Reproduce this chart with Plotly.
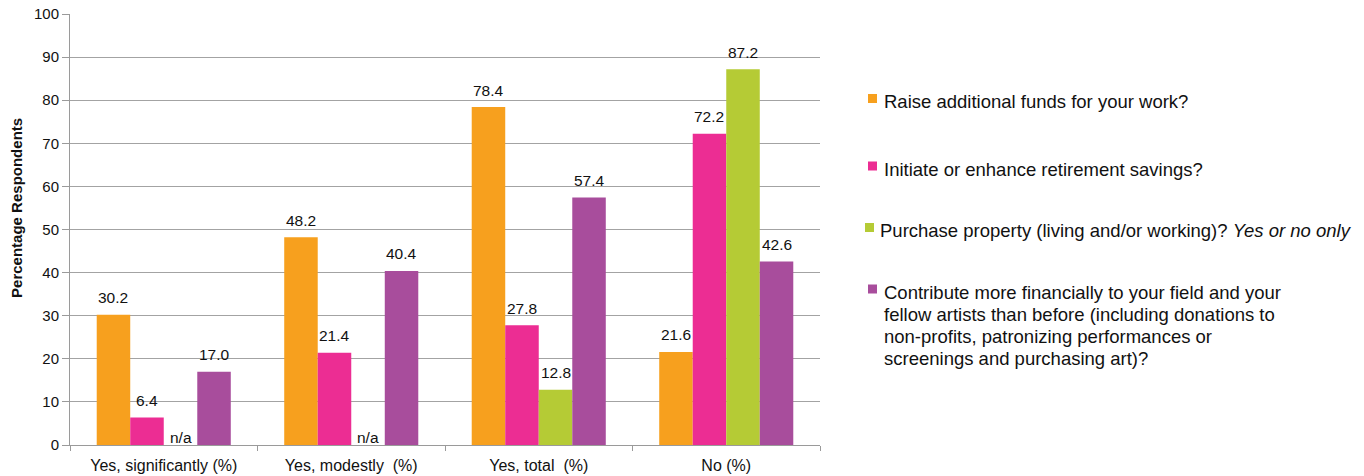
import plotly.graph_objects as go

# Survey responses (percentage of respondents)
categories = ["Yes, significantly (%)", "Yes, modestly  (%)", "Yes, total  (%)", "No (%)"]
series_names = [
    "Raise additional funds for your work?",
    "Initiate or enhance retirement savings?",
    "Purchase property (living and/or working)? <i>Yes or no only</i>",
    "Contribute more financially to your field and your<br>fellow artists than before (including donations to<br>non-profits, patronizing performances or<br>screenings and purchasing art)?",
]
raise_funds = [30.2, 48.2, 78.4, 21.6]
retirement = [6.4, 21.4, 27.8, 72.2]
property_purchase = [None, None, 12.8, 87.2]   # only asked as yes / no
contribute = [17.0, 40.4, 57.4, 42.6]
series_values = [raise_funds, retirement, property_purchase, contribute]
colors = ["#F7A01E", "#EC2D93", "#B5CB35", "#A84D9C"]

FONT = "Liberation Sans, Arial, sans-serif"
BARGAP = 0.285
n_series = len(series_values)
bar_w = (1 - BARGAP) / n_series

fig = go.Figure()
for name, vals, col in zip(series_names, series_values, colors):
    fig.add_trace(go.Bar(
        x=categories, y=[v if v is not None else 0 for v in vals],
        name=name, marker=dict(color=col, line=dict(width=0)),
        showlegend=False, hoverinfo="skip",
    ))

# value labels above each bar, "n/a" where a series was not asked
annotations = []
for i, vals in enumerate(series_values):
    for j, v in enumerate(vals):
        xpos = j + (i - (n_series - 1) / 2) * bar_w
        if v is None:
            annotations.append(dict(x=xpos, y=0, xref="x", yref="y", text="n/a",
                                    showarrow=False, yanchor="middle", yshift=8,
                                    font=dict(family=FONT, size=15.5, color="#111")))
        else:
            annotations.append(dict(x=xpos, y=v, xref="x", yref="y", text=f"{v:.1f}",
                                    showarrow=False, yanchor="middle", yshift=17,
                                    font=dict(family=FONT, size=15.5, color="#111")))

# y-axis title
annotations.append(dict(x=-0.0707, y=0.55, xref="paper", yref="paper",
                        xanchor="center", yanchor="middle",
                        text="<b>Percentage Respondents</b>", textangle=-90,
                        showarrow=False, font=dict(family=FONT, size=15, color="#111")))

# legend drawn at the right side
PL, PT, PW, PH = 70, 14, 750, 431


def px(xp):
    return (xp - PL) / PW


def py(yp):
    return (PT + PH - yp) / PH


legend_rows = [
    (868, 98.5, 882, [series_names[0]]),
    (868, 166, 882, [series_names[1]]),
    (865, 227.5, 878, [series_names[2]]),
    (868, 289, 882, series_names[3].split("<br>")),
]
shapes = []
for (sx, sy, tx, lines), col in zip(legend_rows, colors):
    shapes.append(dict(type="rect", xref="paper", yref="paper",
                       x0=px(sx), x1=px(sx + 9), y0=py(sy - 4.5), y1=py(sy + 4.5),
                       fillcolor=col, line=dict(width=0)))
    for k, line in enumerate(lines):
        annotations.append(dict(x=px(tx), y=py(sy + 3 + 22 * k), xref="paper", yref="paper",
                                text=line, showarrow=False, xanchor="left", yanchor="middle",
                                font=dict(family=FONT, size=18.5, color="#111")))

fig.update_layout(
    width=1364, height=476,
    margin=dict(l=PL, r=1364 - PL - PW, t=PT, b=476 - PT - PH, pad=0),
    barmode="group", bargap=BARGAP, bargroupgap=0,
    paper_bgcolor="white", plot_bgcolor="white",
    font=dict(family=FONT, color="#111"),
    annotations=annotations, shapes=shapes,
    xaxis=dict(showgrid=False, showline=True, linecolor="#9a9a9a", linewidth=1,
               ticks="outside", tickson="boundaries", ticklen=5, tickcolor="#9a9a9a",
               automargin=False, ticklabelstandoff=6,
               tickfont=dict(family=FONT, size=16, color="#111")),
    yaxis=dict(range=[0, 100], dtick=10, showgrid=True, gridcolor="#a3a3a3", gridwidth=1,
               showline=True, linecolor="#9a9a9a", linewidth=1, zeroline=False,
               ticks="outside", ticklen=7, tickcolor="#9a9a9a", automargin=False,
               tickfont=dict(family=FONT, size=15, color="#111")),
)

fig.write_html("out.html")
